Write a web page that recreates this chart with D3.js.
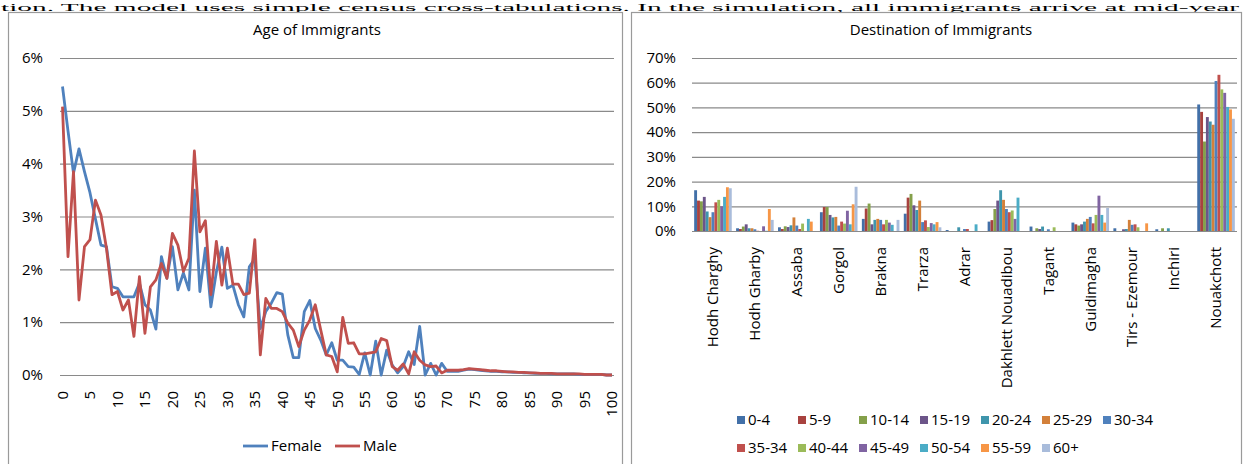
<!DOCTYPE html>
<html><head><meta charset="utf-8">
<script src="https://cdn.jsdelivr.net/npm/d3@7"></script>
<style>
body{margin:0;background:#fff}
svg{display:block}
text{font-family:"Open Sans",sans-serif;fill:#000}
</style>
</head><body>
<svg id="c" width="1244" height="464"></svg>
<script>
// ---------- DATA ----------
const paragraph = "tion. The model uses simple census cross-tabulations. In the simulation, all immigrants arrive at mid-year";

const lineTitle = "Age of Immigrants";
const barTitle = "Destination of Immigrants";

// Share of immigrants (%) by single year of age 0..100
const female = [5.46,4.62,3.82,4.28,3.85,3.45,2.95,2.46,2.43,1.67,1.64,1.48,1.48,1.48,1.74,1.33,1.23,0.87,2.24,1.83,
  2.43,1.61,1.93,1.61,3.50,1.58,2.40,1.29,1.95,2.42,1.64,1.70,1.33,1.10,2.05,2.20,0.88,1.20,1.36,1.56,
  1.53,0.76,0.33,0.33,1.20,1.41,0.88,0.66,0.38,0.61,0.28,0.28,0.16,0.15,0.01,0.42,0.00,0.64,0.00,0.47,
  0.19,0.04,0.16,0.44,0.20,0.92,0.00,0.22,0.00,0.22,0.07,0.07,0.07,0.09,0.11,0.10,0.09,0.08,0.07,0.07,
  0.06,0.06,0.05,0.05,0.04,0.04,0.03,0.03,0.03,0.02,0.02,0.02,0.02,0.02,0.01,0.01,0.01,0.01,0.01,0.00,0.00];
const male = [5.08,2.24,3.85,1.42,2.43,2.56,3.31,3.03,2.40,1.52,1.58,1.23,1.42,0.73,1.86,0.79,1.67,1.80,2.11,1.83,
  2.68,2.46,1.96,2.21,4.24,2.71,2.92,1.52,2.53,1.70,2.40,1.72,1.72,1.52,1.55,2.56,0.38,1.45,1.26,1.26,
  1.20,0.98,0.85,0.54,0.85,1.04,1.33,0.85,0.38,0.35,0.06,1.09,0.60,0.61,0.40,0.40,0.42,0.44,0.69,0.65,
  0.16,0.09,0.21,0.02,0.44,0.28,0.19,0.16,0.17,0.04,0.09,0.09,0.09,0.10,0.12,0.11,0.10,0.09,0.08,0.08,
  0.07,0.06,0.06,0.05,0.05,0.04,0.04,0.03,0.03,0.03,0.02,0.02,0.02,0.02,0.02,0.01,0.01,0.01,0.01,0.00,0.00];
const lineSeries = ["Female","Male"];
const ageTickLabels = [0,5,10,15,20,25,30,35,40,45,50,55,60,65,70,75,80,85,90,95,100];
const lineYTicks = [0,1,2,3,4,5,6];

const regions = ["Hodh Charghy","Hodh Gharby","Assaba","Gorgol","Brakna","Trarza","Adrar",
  "Dakhlett Nouadibou","Tagant","Guidimagha","Tirs - Ezemour","Inchiri","Nouakchott"];
const ageGroups = ["0-4","5-9","10-14","15-19","20-24","25-29","30-34","35-34","40-44","45-49","50-54","55-59","60+"];

// Share of each age group (%) going to each region, one array per region, in ageGroups order
const hodhCharghy = [16.5,12.3,12.0,13.8,7.9,5.6,7.6,11.6,12.6,10.0,13.8,17.7,17.3];
const hodhGharby  = [1.1,0.8,1.8,2.7,1.1,1.1,0.7,0.1,0,1.9,0.1,8.9,4.5];
const assaba      = [1.5,0.8,1.9,1.6,2.3,5.5,2.2,0.8,3.0,0,4.9,3.8,0];
const gorgol      = [7.6,9.7,9.7,6.5,5.5,5.7,2.2,3.8,3.0,8.2,2.7,10.8,17.9];
const brakna      = [4.9,9.1,11.1,2.7,4.5,4.9,4.5,2.7,4.5,3.4,2.5,0,4.5];
const trarza      = [7.0,13.5,15.0,10.4,8.5,12.3,3.6,4.3,1.6,3.2,2.7,3.6,1.5];
const adrar       = [0.4,0,0,0,1.5,0,0.8,0.8,0,0,2.7,0,0];
const dakhlett    = [3.8,4.4,8.9,12.3,16.5,12.6,8.9,7.6,8.3,4.9,13.5,0,0];
const tagant      = [1.8,0,1.1,0.8,1.8,0,0.7,0,1.5,0,0,0,0];
const guidimagha  = [3.4,2.7,2.2,2.7,3.8,4.9,5.7,3.1,6.5,14.3,6.5,3.4,9.3];
const tirsEzemour = [1.1,0,0,0.7,0.8,4.5,2.5,2.7,1.5,0,0,3.1,0];
const inchiri     = [0.7,0,1.1,0,1.1,0,0,0,0,0,0,0,0];
const nouakchott  = [51.2,48.2,36.2,46.1,44.3,43.0,60.7,63.2,57.3,55.9,50.2,49.2,45.4];
const barYTicks = [0,10,20,30,40,50,60,70];

// ---------- STYLE ----------
const lineColors = ["#4F81BD","#C0504D"];
const barColors = ["#4270A8","#A8423F","#84A04A","#6C5589","#3F95AC","#D3803A",
  "#4F81BD","#C0504D","#9BBB59","#8064A2","#4BACC6","#F79646","#A9BCDB"];
const gridColor = "#8a8a8a";

const regionValues = [hodhCharghy,hodhGharby,assaba,gorgol,brakna,trarza,adrar,dakhlett,tagant,guidimagha,tirsEzemour,inchiri,nouakchott];

const svg = d3.select("#c");

// paragraph fragment at top
svg.append("text").attr("x",1).attr("y",11)
  .style("font-family","'Liberation Serif',serif").attr("font-size",11)
  .attr("textLength",1238).attr("lengthAdjust","spacingAndGlyphs")
  .text(paragraph);

// chart frames
svg.append("rect").attr("x",8.5).attr("y",12.5).attr("width",614).attr("height",470)
  .attr("fill","none").attr("stroke","#9a9a9a").attr("stroke-width",1.2);
svg.append("rect").attr("x",631.5).attr("y",12.5).attr("width",610).attr("height",470)
  .attr("fill","none").attr("stroke","#9a9a9a").attr("stroke-width",1.2);

// ---------- LINE CHART ----------
const xL = d3.scaleLinear().domain([0,100]).range([62.5,612]);
const yL = d3.scaleLinear().domain([0,6]).range([375,58]);
const gL = svg.append("g");

gL.append("text").attr("x",317).attr("y",35).attr("text-anchor","middle").attr("font-size",15).text(lineTitle);

const yAxisL = d3.axisLeft(yL).tickValues(lineYTicks).tickSize(-554).tickPadding(17).tickFormat(d=>d+"%");
const gyL = gL.append("g").attr("transform","translate(60,0)").call(yAxisL);
gyL.select(".domain").remove();
gyL.selectAll(".tick line").attr("stroke",gridColor).attr("stroke-width",1.2);
gyL.selectAll(".tick text").attr("font-size",15).style("font-family","'Open Sans',sans-serif").attr("fill","#000");

gL.selectAll("text.xt").data(ageTickLabels).join("text").attr("class","xt")
  .attr("transform",d=>`translate(${xL(d)},391) rotate(-90)`)
  .attr("text-anchor","end").attr("dy","0.35em").attr("font-size",15).text(d=>d);

const line = d3.line().x((d,i)=>xL(i)).y(d=>yL(d));
[female,male].forEach((s,k)=>{
  gL.append("path").datum(s).attr("d",line).attr("fill","none")
    .attr("stroke",lineColors[k]).attr("stroke-width",2.8).attr("stroke-linejoin","round");
});

// legend
const legL = gL.selectAll("g.ll").data(lineSeries).join("g").attr("class","ll")
  .attr("transform",(d,i)=>`translate(${243+i*92},446)`);
legL.append("line").attr("x1",0).attr("x2",25).attr("stroke",(d,i)=>lineColors[i]).attr("stroke-width",2.8);
legL.append("text").attr("x",28).attr("dy","0.35em").attr("font-size",15).text(d=>d);

// ---------- BAR CHART ----------
const xB = d3.scaleBand().domain(regions).range([692,1237]).paddingInner(1.5/14.5).paddingOuter(0.75/14.5);
const xS = d3.scaleBand().domain(ageGroups).range([0,xB.bandwidth()]);
const yB = d3.scaleLinear().domain([0,70]).range([231,58]);
const gB = svg.append("g");

gB.append("text").attr("x",941).attr("y",35).attr("text-anchor","middle").attr("font-size",15).text(barTitle);

const yAxisB = d3.axisLeft(yB).tickValues(barYTicks).tickSize(-545).tickPadding(16).tickFormat(d=>d+"%");
const gyB = gB.append("g").attr("transform","translate(692,0)").call(yAxisB);
gyB.select(".domain").remove();
gyB.selectAll(".tick line").attr("stroke",gridColor).attr("stroke-width",1.2);
gyB.selectAll(".tick text").attr("font-size",15).style("font-family","'Open Sans',sans-serif").attr("fill","#000");

const cells = [];
regions.forEach((r,ri)=>ageGroups.forEach((a,ai)=>cells.push({r,a,ai,v:regionValues[ri][ai]})));
gB.selectAll("rect.bar").data(cells).join("rect").attr("class","bar")
  .attr("x",d=>xB(d.r)+xS(d.a)).attr("width",xS.bandwidth())
  .attr("y",d=>yB(d.v)).attr("height",d=>yB(0)-yB(d.v))
  .attr("fill",d=>barColors[d.ai]);

gB.selectAll("text.rl").data(regions).join("text").attr("class","rl")
  .attr("transform",d=>`translate(${xB(d)+xB.bandwidth()/2},247) rotate(-90)`)
  .attr("text-anchor","end").attr("dy","0.35em").attr("font-size",15).text(d=>d);

// legend: 7 columns, 2 rows
const legB = gB.selectAll("g.bl").data(ageGroups).join("g").attr("class","bl")
  .attr("transform",(d,i)=>`translate(${737+(i%7)*61},${i<7?420:448})`);
legB.append("rect").attr("x",0).attr("y",-4).attr("width",8).attr("height",8).attr("fill",(d,i)=>barColors[i]);
legB.append("text").attr("x",11).attr("dy","0.35em").attr("font-size",15).text(d=>d);
</script>
</body></html>
